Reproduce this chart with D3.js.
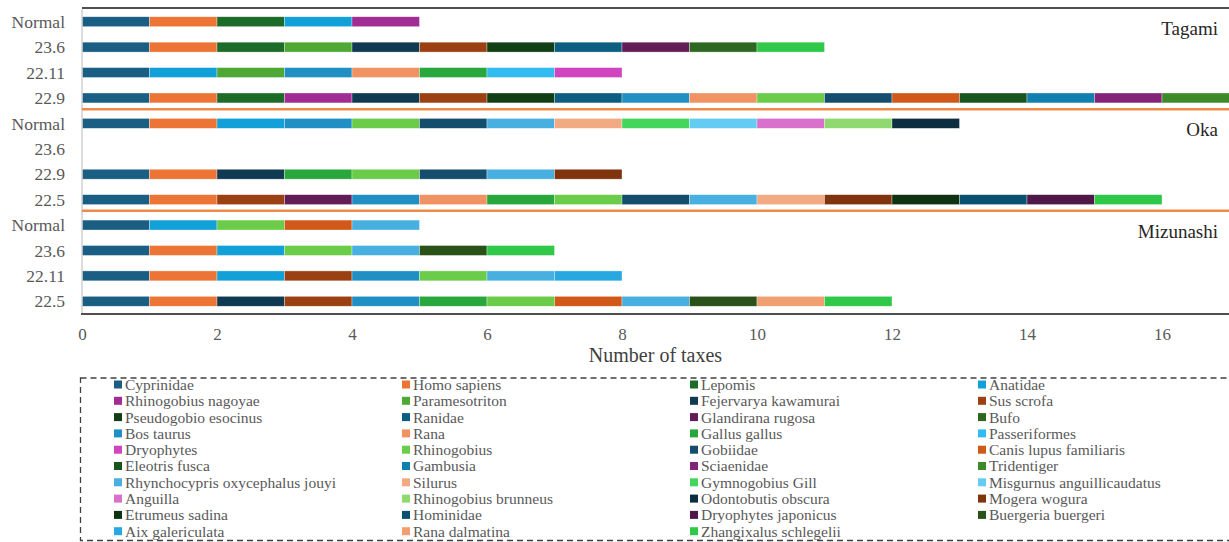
<!DOCTYPE html>
<html>
<head>
<meta charset="utf-8">
<script src="https://cdn.jsdelivr.net/npm/d3@7"></script>
<style>
  html, body { margin: 0; padding: 0; background: #fff; }
  svg { display: block; }
  svg text { font-family: 'Liberation Serif', 'Times New Roman', Tinos, 'DejaVu Serif', serif !important; }
</style>
</head>
<body>
<svg id="chart" width="1229" height="542"></svg>
<script>
// ---------- DATA ----------
const taxa = [
  "Cyprinidae", "Homo sapiens", "Lepomis", "Anatidae",
  "Rhinogobius nagoyae", "Paramesotriton", "Fejervarya kawamurai", "Sus scrofa",
  "Pseudogobio esocinus", "Ranidae", "Glandirana rugosa", "Bufo",
  "Bos taurus", "Rana", "Gallus gallus", "Passeriformes",
  "Dryophytes", "Rhinogobius", "Gobiidae", "Canis lupus familiaris",
  "Eleotris fusca", "Gambusia", "Sciaenidae", "Tridentiger",
  "Rhynchocypris oxycephalus jouyi", "Silurus", "Gymnogobius Gill", "Misgurnus anguillicaudatus",
  "Anguilla", "Rhinogobius brunneus", "Odontobutis obscura", "Mogera wogura",
  "Etrumeus sadina", "Hominidae", "Dryophytes japonicus", "Buergeria buergeri",
  "Aix galericulata", "Rana dalmatina", "Zhangixalus schlegelii"
];
const taxaColors = [
  "#1a5e84", "#ec7434", "#1c6b28", "#12a0d8",
  "#a02c94", "#50a834", "#0f3a52", "#9a4012",
  "#123e16", "#0b5e80", "#621c58", "#2e6820",
  "#2090c4", "#f09262", "#28a83c", "#30bcf0",
  "#d044c0", "#6acc48", "#144e6c", "#d05818",
  "#18561e", "#1080b0", "#842478", "#3e8a2a",
  "#48b0e0", "#f2aa82", "#44d65c", "#64ccf2",
  "#d870cc", "#90d870", "#0c2e40", "#80340e",
  "#0e3212", "#0a5070", "#501848", "#2a5218",
  "#28a8e0", "#f0a070", "#30c848"
];
const sites = ["Tagami", "Oka", "Mizunashi"];
const rowSites = ["Tagami","Tagami","Tagami","Tagami","Oka","Oka","Oka","Oka","Mizunashi","Mizunashi","Mizunashi","Mizunashi"];
const rowLabels = ["Normal","23.6","22.11","22.9","Normal","23.6","22.9","22.5","Normal","23.6","22.11","22.5"];
const xTicks = [0, 2, 4, 6, 8, 10, 12, 14, 16];

// taxa detected in each sample (each counts as 1 taxon)
const tagamiNormal = ["Cyprinidae","Homo sapiens","Lepomis","Anatidae","Rhinogobius nagoyae"];
const tagami236 = ["Cyprinidae","Homo sapiens","Lepomis","Paramesotriton","Fejervarya kawamurai","Sus scrofa","Pseudogobio esocinus","Ranidae","Glandirana rugosa","Bufo","Zhangixalus schlegelii"];
const tagami2211 = ["Cyprinidae","Anatidae","Paramesotriton","Bos taurus","Rana","Gallus gallus","Passeriformes","Dryophytes"];
const tagami229 = ["Cyprinidae","Homo sapiens","Lepomis","Rhinogobius nagoyae","Fejervarya kawamurai","Sus scrofa","Pseudogobio esocinus","Ranidae","Bos taurus","Rana","Rhinogobius","Gobiidae","Canis lupus familiaris","Eleotris fusca","Gambusia","Sciaenidae","Tridentiger"];
const okaNormal = ["Cyprinidae","Homo sapiens","Anatidae","Bos taurus","Rhinogobius","Gobiidae","Rhynchocypris oxycephalus jouyi","Silurus","Gymnogobius Gill","Misgurnus anguillicaudatus","Anguilla","Rhinogobius brunneus","Odontobutis obscura"];
const oka236 = [];
const oka229 = ["Cyprinidae","Homo sapiens","Fejervarya kawamurai","Gallus gallus","Rhinogobius","Gobiidae","Rhynchocypris oxycephalus jouyi","Mogera wogura"];
const oka225 = ["Cyprinidae","Homo sapiens","Sus scrofa","Glandirana rugosa","Bos taurus","Rana","Gallus gallus","Rhinogobius","Gobiidae","Rhynchocypris oxycephalus jouyi","Silurus","Mogera wogura","Etrumeus sadina","Hominidae","Dryophytes japonicus","Zhangixalus schlegelii"];
const mizunashiNormal = ["Cyprinidae","Anatidae","Rhinogobius","Canis lupus familiaris","Rhynchocypris oxycephalus jouyi"];
const mizunashi236 = ["Cyprinidae","Homo sapiens","Anatidae","Rhinogobius","Rhynchocypris oxycephalus jouyi","Buergeria buergeri","Zhangixalus schlegelii"];
const mizunashi2211 = ["Cyprinidae","Homo sapiens","Anatidae","Sus scrofa","Bos taurus","Rhinogobius","Rhynchocypris oxycephalus jouyi","Aix galericulata"];
const mizunashi225 = ["Cyprinidae","Homo sapiens","Fejervarya kawamurai","Sus scrofa","Bos taurus","Gallus gallus","Rhinogobius","Canis lupus familiaris","Rhynchocypris oxycephalus jouyi","Buergeria buergeri","Rana dalmatina","Zhangixalus schlegelii"];

const samples = [tagamiNormal, tagami236, tagami2211, tagami229,
                 okaNormal, oka236, oka229, oka225,
                 mizunashiNormal, mizunashi236, mizunashi2211, mizunashi225];

// ---------- BUILD TABLE ----------
const table = rowLabels.map((lab, i) => {
  const r = { id: rowSites[i] + "|" + lab, label: lab };
  taxa.forEach(t => { r[t] = samples[i].includes(t) ? 1 : 0; });
  return r;
});
const stacked = d3.stack().keys(taxa)(table);
const color = d3.scaleOrdinal().domain(taxa).range(taxaColors);

const FONT = "'Liberation Serif', 'Times New Roman', Tinos, 'DejaVu Serif', serif";

// ---------- LAYOUT ----------
const svg = d3.select("#chart").attr("font-family", FONT);
const plot = { left: 82, right: 1229.5, top: 9, bottom: 314 };

const x = d3.scaleLinear().domain([0, 17]).range([plot.left, plot.right]);
const y = d3.scaleBand()
  .domain(table.map(d => d.id))
  .range([plot.top, plot.bottom])
  .paddingInner(0.61)
  .paddingOuter(0.305);

// bars
svg.append("g")
  .selectAll("g")
  .data(stacked)
  .join("g")
  .attr("fill", d => color(d.key))
  .selectAll("rect")
  .data(d => d.filter(s => s[1] > s[0]))
  .join("rect")
  .attr("x", s => x(s[0]))
  .attr("y", s => y(s.data.id))
  .attr("width", s => x(s[1]) - x(s[0]))
  .attr("height", y.bandwidth())
  .attr("stroke", "#ffffff")
  .attr("stroke-opacity", 0.55)
  .attr("stroke-width", 0.6);

// left axis line
svg.append("line")
  .attr("x1", plot.left).attr("x2", plot.left)
  .attr("y1", plot.top).attr("y2", plot.bottom)
  .attr("stroke", "#d0d0d0").attr("stroke-width", 1.5);

// top border
svg.append("line")
  .attr("x1", plot.left).attr("x2", 1229)
  .attr("y1", 8).attr("y2", 8)
  .attr("stroke", "#505050").attr("stroke-width", 2);

// group separators (between sites)
const step = y.step();
[4, 8].forEach(k => {
  const yy = y(table[k].id) - step * y.paddingInner() / 2 - 1.5;
  svg.append("line")
    .attr("x1", plot.left).attr("x2", 1229)
    .attr("y1", yy).attr("y2", yy)
    .attr("stroke", "#f08a4b").attr("stroke-width", 2.5);
});

// y labels
svg.append("g")
  .selectAll("text")
  .data(table)
  .join("text")
  .attr("x", 65)
  .attr("y", d => y(d.id) + y.bandwidth() / 2)
  .attr("dy", "0.35em")
  .attr("text-anchor", "end")
  .attr("font-family", FONT)
  .attr("font-size", 17.5)
  .attr("fill", "#595959")
  .text(d => d.label);

// site labels
const siteRowIndex = [0, 4, 8];
svg.append("g")
  .selectAll("text")
  .data(sites)
  .join("text")
  .attr("x", 1218)
  .attr("y", (d, i) => y(table[siteRowIndex[i]].id) + 18)
  .attr("text-anchor", "end")
  .attr("font-family", FONT)
  .attr("font-size", 19)
  .attr("fill", "#262626")
  .text(d => d);

// x axis
const xAxis = d3.axisBottom(x).tickValues(xTicks).tickSize(0).tickPadding(14);
const gx = svg.append("g")
  .attr("transform", `translate(0,${plot.bottom})`)
  .call(xAxis)
  .attr("font-family", FONT);
gx.select(".domain").remove();
gx.selectAll("text")
  .attr("font-family", FONT)
  .attr("font-size", 17)
  .attr("fill", "#595959");

svg.append("line")
  .attr("x1", plot.left - 1).attr("x2", 1229)
  .attr("y1", plot.bottom).attr("y2", plot.bottom)
  .attr("stroke", "#505050").attr("stroke-width", 2);

// x axis title
svg.append("text")
  .attr("x", (plot.left + 1229) / 2)
  .attr("y", 362)
  .attr("text-anchor", "middle")
  .attr("font-family", FONT)
  .attr("font-size", 20)
  .attr("fill", "#404040")
  .text("Number of taxes");

// ---------- LEGEND ----------
svg.append("rect")
  .attr("x", 80.5).attr("y", 378)
  .attr("width", 1170).attr("height", 162.5)
  .attr("fill", "none")
  .attr("stroke", "#404040")
  .attr("stroke-width", 1.3)
  .attr("stroke-dasharray", "6,4");

const lg = svg.append("g")
  .selectAll("g")
  .data(taxa)
  .join("g")
  .attr("transform", (d, i) => `translate(${114 + (i % 4) * 288},${384.5 + Math.floor(i / 4) * 16.3})`);
lg.append("rect")
  .attr("x", 0).attr("y", -4)
  .attr("width", 8).attr("height", 8)
  .attr("fill", d => color(d));
lg.append("text")
  .attr("x", 11)
  .attr("y", 0)
  .attr("dy", "0.35em")
  .attr("font-family", FONT)
  .attr("font-size", 15.5)
  .attr("fill", "#595959")
  .text(d => d);
</script>
</body>
</html>
